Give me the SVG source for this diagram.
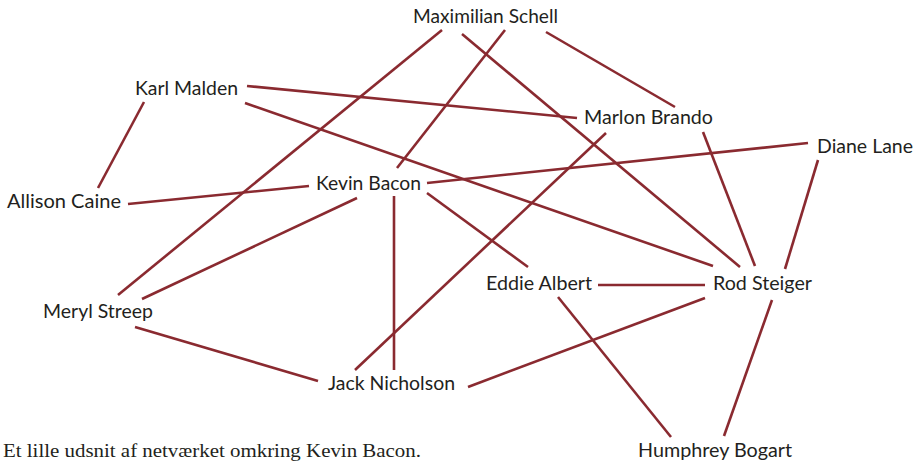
<svg xmlns="http://www.w3.org/2000/svg" width="919" height="465" viewBox="0 0 919 465">
<style>
.e{stroke:#8a2a30;stroke-width:2.6;fill:none;stroke-linecap:butt}
.n{font-family:Lato,"Open Sans","Liberation Sans",sans-serif;font-size:19.5px;fill:#231f20}
.c{font-family:"Liberation Serif",serif;font-size:19px;fill:#231f20}
</style>
<rect width="919" height="465" fill="#fff"/>
<g id="edges">
<line class="e" x1="442" y1="30" x2="118" y2="295"/>
<line class="e" x1="505" y1="30" x2="397" y2="168"/>
<line class="e" x1="462" y1="34" x2="740" y2="267"/>
<line class="e" x1="546" y1="32" x2="675" y2="107"/>
<line class="e" x1="247" y1="86" x2="577" y2="118"/>
<line class="e" x1="245" y1="103" x2="713" y2="266"/>
<line class="e" x1="144" y1="102" x2="98" y2="188"/>
<line class="e" x1="128" y1="204" x2="309" y2="186"/>
<line class="e" x1="427" y1="183" x2="808" y2="143"/>
<line class="e" x1="427" y1="193" x2="528" y2="267"/>
<line class="e" x1="394" y1="196" x2="394" y2="370"/>
<line class="e" x1="357" y1="198" x2="142" y2="299"/>
<line class="e" x1="606" y1="133" x2="355" y2="370"/>
<line class="e" x1="703" y1="132" x2="755" y2="266"/>
<line class="e" x1="818" y1="160" x2="785" y2="269"/>
<line class="e" x1="598" y1="285" x2="705" y2="285"/>
<line class="e" x1="558" y1="297" x2="671" y2="437"/>
<line class="e" x1="772" y1="300" x2="724" y2="436"/>
<line class="e" x1="705" y1="298" x2="468" y2="387"/>
<line class="e" x1="135" y1="327" x2="318" y2="381"/>
</g>
<g id="maximilian-schell"><text class="n" x="413" y="23" textLength="145" lengthAdjust="spacingAndGlyphs">Maximilian Schell</text></g>
<g id="karl-malden"><text class="n" x="135" y="95" textLength="103" lengthAdjust="spacingAndGlyphs">Karl Malden</text></g>
<g id="allison-caine"><text class="n" x="7" y="208" textLength="114" lengthAdjust="spacingAndGlyphs">Allison Caine</text></g>
<g id="kevin-bacon"><text class="n" x="316" y="190" textLength="105" lengthAdjust="spacingAndGlyphs">Kevin Bacon</text></g>
<g id="marlon-brando"><text class="n" x="584" y="124" textLength="129" lengthAdjust="spacingAndGlyphs">Marlon Brando</text></g>
<g id="diane-lane"><text class="n" x="817" y="153" textLength="96" lengthAdjust="spacingAndGlyphs">Diane Lane</text></g>
<g id="eddie-albert"><text class="n" x="486" y="290" textLength="106" lengthAdjust="spacingAndGlyphs">Eddie Albert</text></g>
<g id="rod-steiger"><text class="n" x="713" y="290" textLength="99" lengthAdjust="spacingAndGlyphs">Rod Steiger</text></g>
<g id="meryl-streep"><text class="n" x="43" y="318" textLength="110" lengthAdjust="spacingAndGlyphs">Meryl Streep</text></g>
<g id="jack-nicholson"><text class="n" x="328" y="390" textLength="127" lengthAdjust="spacingAndGlyphs">Jack Nicholson</text></g>
<g id="humphrey-bogart"><text class="n" x="638" y="457" textLength="154" lengthAdjust="spacingAndGlyphs">Humphrey Bogart</text></g>
<text class="c" x="3" y="457" textLength="418" lengthAdjust="spacingAndGlyphs">Et lille udsnit af netværket omkring Kevin Bacon.</text>
</svg>
